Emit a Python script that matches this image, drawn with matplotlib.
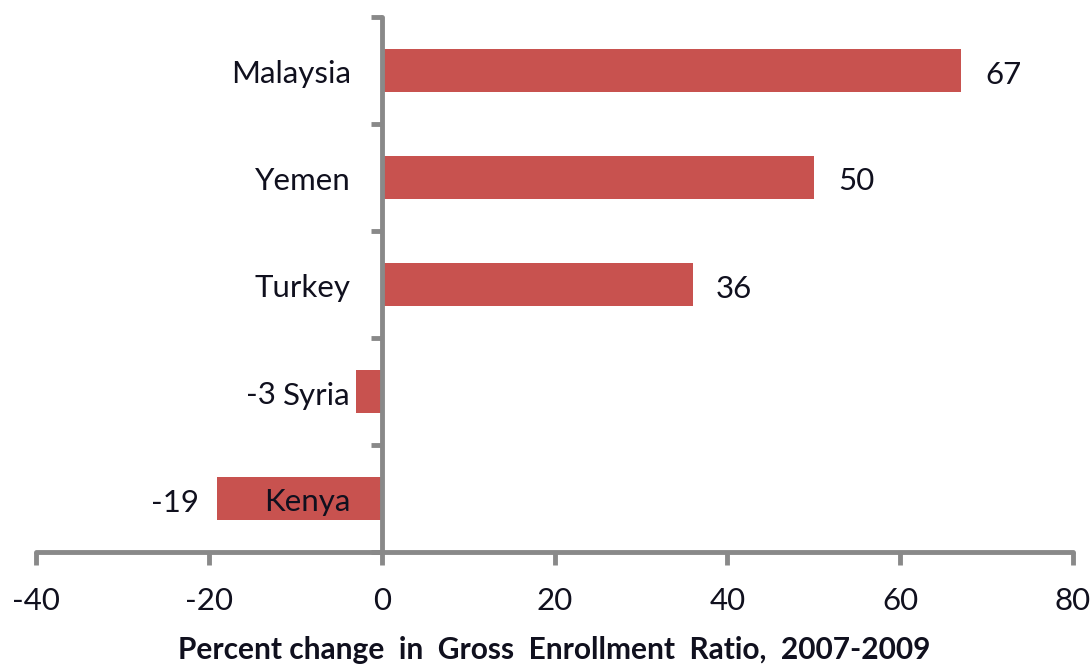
import matplotlib.pyplot as plt
from matplotlib.transforms import offset_copy

# data (bottom to top)
countries = ['Kenya', 'Syria', 'Turkey', 'Yemen', 'Malaysia']
pct_change = [-19, -3, 36, 50, 67]
x_ticks = [-40, -20, 0, 20, 40, 60, 80]

# pixel offsets for the value labels, as excel placed them
label_dx = [-18, -80, 23, 24, 25]

bar_color = '#C8524F'
axis_color = '#898989'
text_color = '#10101E'

plt.rcParams['font.family'] = ['Lato', 'DejaVu Sans']

fig = plt.figure(figsize=(10.91, 6.65), dpi=100)
ax = fig.add_axes([36 / 1091, 1 - 552 / 665, (1073 - 36) / 1091, (552 - 17) / 665])

ypos = list(range(len(countries)))
ax.barh(ypos, pct_change, height=0.41, color=bar_color, zorder=2)

ax.set_xlim(-40, 80)
ax.set_ylim(-0.5, len(countries) - 0.5)

for s in ['top', 'right']:
    ax.spines[s].set_visible(False)
for s in ['left', 'bottom']:
    ax.spines[s].set_color(axis_color)
    ax.spines[s].set_linewidth(3.5)
    ax.spines[s].set_capstyle('round')
ax.spines['left'].set_position(('data', 0))
ax.spines['left'].set_zorder(3)

ax.set_xticks(x_ticks)
ax.set_xticklabels([str(t) for t in x_ticks])
ax.set_yticks([y - 0.5 for y in range(len(countries) + 1)])
ax.set_yticklabels([])
ax.tick_params(axis='x', direction='out', length=9, width=3.5, color=axis_color,
               labelsize=22.5, labelcolor=text_color, pad=16)
ax.tick_params(axis='y', direction='out', length=8, width=3.5, color=axis_color)

# category names, right-aligned just left of the zero line
for y, name in zip(ypos, countries):
    t = offset_copy(ax.transData, fig=fig, x=-31, y=-4, units='dots')
    ax.text(0, y, name, transform=t, ha='right', va='center',
            fontsize=22.5, color=text_color, zorder=4)

# value labels
for y, v, dx in zip(ypos, pct_change, label_dx):
    t = offset_copy(ax.transData, fig=fig, x=dx, y=-4, units='dots')
    ax.text(v, y, str(v), transform=t, ha='left' if v > 0 else 'right',
            va='center', fontsize=22.5, color=text_color, zorder=4)

ax.set_xlabel('Percent change  in  Gross  Enrollment  Ratio,  2007-2009',
              fontsize=21.5, fontweight='bold', color=text_color, labelpad=15)

fig.savefig('out.png', dpi=100)
